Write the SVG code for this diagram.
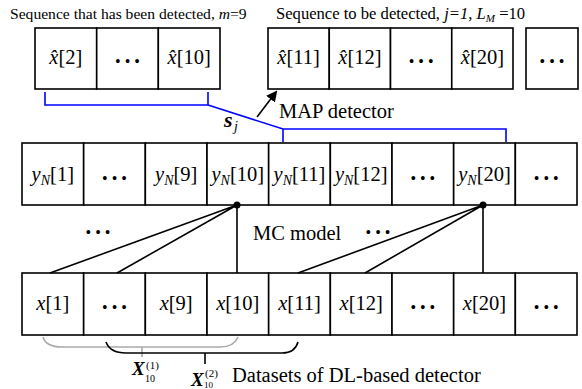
<svg xmlns="http://www.w3.org/2000/svg" width="582" height="389" viewBox="0 0 582 389" font-family="'Liberation Serif', 'Times New Roman', serif">
<style>
text{font-family:'Liberation Serif','Times New Roman',serif;fill:#000}
.cell{fill:#fff;stroke:#000;stroke-width:1.6}
.ct{font-size:20.5px;text-anchor:middle}
.dots{font-size:16px;text-anchor:middle;letter-spacing:4px}
.lbl{font-size:16px}
.big{font-size:20.5px}
.i{font-style:italic}
.ln{stroke:#000;stroke-width:1.6;fill:none}
.blue{stroke:#0000ff;stroke-width:1.6;fill:none}
.gray{stroke:#aaaaaa;stroke-width:1.6;fill:none}
</style>
<defs>
<marker id="ah" markerWidth="11" markerHeight="11" refX="9" refY="5.5" orient="auto" markerUnits="userSpaceOnUse">
<path d="M0,0 L11,5.5 L0,11 z" fill="#000"/>
</marker>
</defs>
<rect width="582" height="389" fill="#fff"/>

<text class="lbl" x="10" y="19" style="font-size:15.6px">Sequence that has been detected, <tspan class="i">m</tspan>=9</text>
<text class="lbl" x="276" y="19" style="font-size:16.6px">Sequence to be detected, <tspan class="i">j=1, L</tspan><tspan class="i" font-size="11" dy="3">M</tspan><tspan dy="-3"> =10</tspan></text>

<g id="top-detected">
<g id="xh2"><rect class="cell" x="35" y="28" width="61.7" height="61"/><text class="ct" x="65.8" y="64"><tspan class="i">x̂</tspan>[2]</text></g>
<g id="xh-dots1"><rect class="cell" x="96.7" y="28" width="61.7" height="61"/><text class="dots" x="129.5" y="67">•••</text></g>
<g id="xh10"><rect class="cell" x="158.3" y="28" width="61.7" height="61"/><text class="ct" x="189.2" y="64"><tspan class="i">x̂</tspan>[10]</text></g>
</g>
<g id="top-to-detect">
<g id="xh11"><rect class="cell" x="268" y="28" width="61.25" height="61"/><text class="ct" x="298.6" y="64"><tspan class="i">x̂</tspan>[11]</text></g>
<g id="xh12"><rect class="cell" x="329.25" y="28" width="61.25" height="61"/><text class="ct" x="359.9" y="64"><tspan class="i">x̂</tspan>[12]</text></g>
<g id="xh-dots2"><rect class="cell" x="390.5" y="28" width="61.25" height="61"/><text class="dots" x="423.1" y="67">•••</text></g>
<g id="xh20"><rect class="cell" x="451.75" y="28" width="61.25" height="61"/><text class="ct" x="482.4" y="64"><tspan class="i">x̂</tspan>[20]</text></g>
</g>
<g id="xh-dots3"><rect class="cell" x="526" y="28" width="52" height="61"/><text class="dots" x="554" y="67">•••</text></g>

<g id="middle-row">
<g id="y1"><rect class="cell" x="22" y="143" width="61.67" height="62"/><text class="ct" x="52.8" y="181"><tspan class="i">y</tspan><tspan class="i" font-size="14" dy="4">N</tspan><tspan dy="-4">[1]</tspan></text></g>
<g id="ydots1"><rect class="cell" x="83.67" y="143" width="61.67" height="62"/><text class="dots" x="116.5" y="184">•••</text></g>
<g id="y9"><rect class="cell" x="145.33" y="143" width="61.67" height="62"/><text class="ct" x="176.2" y="181"><tspan class="i">y</tspan><tspan class="i" font-size="14" dy="4">N</tspan><tspan dy="-4">[9]</tspan></text></g>
<g id="y10"><rect class="cell" x="207" y="143" width="61.67" height="62"/><text class="ct" x="237.8" y="181"><tspan class="i">y</tspan><tspan class="i" font-size="14" dy="4">N</tspan><tspan dy="-4">[10]</tspan></text></g>
<g id="y11"><rect class="cell" x="268.67" y="143" width="61.67" height="62"/><text class="ct" x="299.5" y="181"><tspan class="i">y</tspan><tspan class="i" font-size="14" dy="4">N</tspan><tspan dy="-4">[11]</tspan></text></g>
<g id="y12"><rect class="cell" x="330.33" y="143" width="61.67" height="62"/><text class="ct" x="361.2" y="181"><tspan class="i">y</tspan><tspan class="i" font-size="14" dy="4">N</tspan><tspan dy="-4">[12]</tspan></text></g>
<g id="ydots2"><rect class="cell" x="392" y="143" width="61.67" height="62"/><text class="dots" x="424.8" y="184">•••</text></g>
<g id="y20"><rect class="cell" x="453.67" y="143" width="61.67" height="62"/><text class="ct" x="484.5" y="181"><tspan class="i">y</tspan><tspan class="i" font-size="14" dy="4">N</tspan><tspan dy="-4">[20]</tspan></text></g>
<g id="ydots3"><rect class="cell" x="515.33" y="143" width="61.67" height="62"/><text class="dots" x="548.2" y="184">•••</text></g>
</g>

<g id="bottom-row">
<g id="x1"><rect class="cell" x="22" y="273" width="61.67" height="62"/><text class="ct" x="52.8" y="310"><tspan class="i">x</tspan>[1]</text></g>
<g id="xdots1"><rect class="cell" x="83.67" y="273" width="61.67" height="62"/><text class="dots" x="116.5" y="313">•••</text></g>
<g id="x9"><rect class="cell" x="145.33" y="273" width="61.67" height="62"/><text class="ct" x="176.2" y="310"><tspan class="i">x</tspan>[9]</text></g>
<g id="x10"><rect class="cell" x="207" y="273" width="61.67" height="62"/><text class="ct" x="237.8" y="310"><tspan class="i">x</tspan>[10]</text></g>
<g id="x11"><rect class="cell" x="268.67" y="273" width="61.67" height="62"/><text class="ct" x="299.5" y="310"><tspan class="i">x</tspan>[11]</text></g>
<g id="x12"><rect class="cell" x="330.33" y="273" width="61.67" height="62"/><text class="ct" x="361.2" y="310"><tspan class="i">x</tspan>[12]</text></g>
<g id="xdots2"><rect class="cell" x="392" y="273" width="61.67" height="62"/><text class="dots" x="424.8" y="313">•••</text></g>
<g id="x20"><rect class="cell" x="453.67" y="273" width="61.67" height="62"/><text class="ct" x="484.5" y="310"><tspan class="i">x</tspan>[20]</text></g>
<g id="xdots3"><rect class="cell" x="515.33" y="273" width="61.67" height="62"/><text class="dots" x="548.2" y="313">•••</text></g>
</g>

<g id="connectors">
<path class="blue" d="M45,92 L45,105 L208,105 L208,92 M208,105 L283,129 L506,129 L506,142 M283,129 L283,142"/>
<line class="ln" x1="257" y1="117" x2="276" y2="92" marker-end="url(#ah)"/>
<path class="ln" d="M237,205 L50,273 M237,205 L117,273 M237,205 L237,273"/>
<path class="ln" d="M483,205 L298,273 M483,205 L365,273 M483,205 L483,273"/>
<circle cx="237" cy="205" r="3.5" fill="#000"/>
<circle cx="483" cy="205" r="3.5" fill="#000"/>
<path class="gray" d="M43,337 Q46,347 62,347 L220,347 Q234,347 238,337 M142,347 L142,357"/>
<path class="ln" d="M106,342 Q110,353 126,353 L282,353 Q295,353 298,342 M205,353 L205,364"/>
</g>

<text class="big" x="279" y="118">MAP detector</text>
<text x="224" y="127" font-size="22" font-weight="bold" font-style="italic">s</text>
<text x="234" y="131" font-size="14" font-style="italic">j</text>
<text class="dots" x="100" y="238">•••</text>
<text class="dots" x="380" y="238">•••</text>
<text class="big" x="253" y="240">MC model</text>
<text x="132" y="375" font-size="19" font-weight="bold" font-style="italic">X</text>
<text x="146" y="369" font-size="11">(1)</text>
<text x="145" y="382" font-size="10">10</text>
<text x="191" y="386" font-size="19" font-weight="bold" font-style="italic">X</text>
<text x="205" y="377" font-size="11">(2)</text>
<text x="204" y="388" font-size="9">10</text>
<text class="big" x="232" y="382">Datasets of DL-based detector</text>
</svg>
